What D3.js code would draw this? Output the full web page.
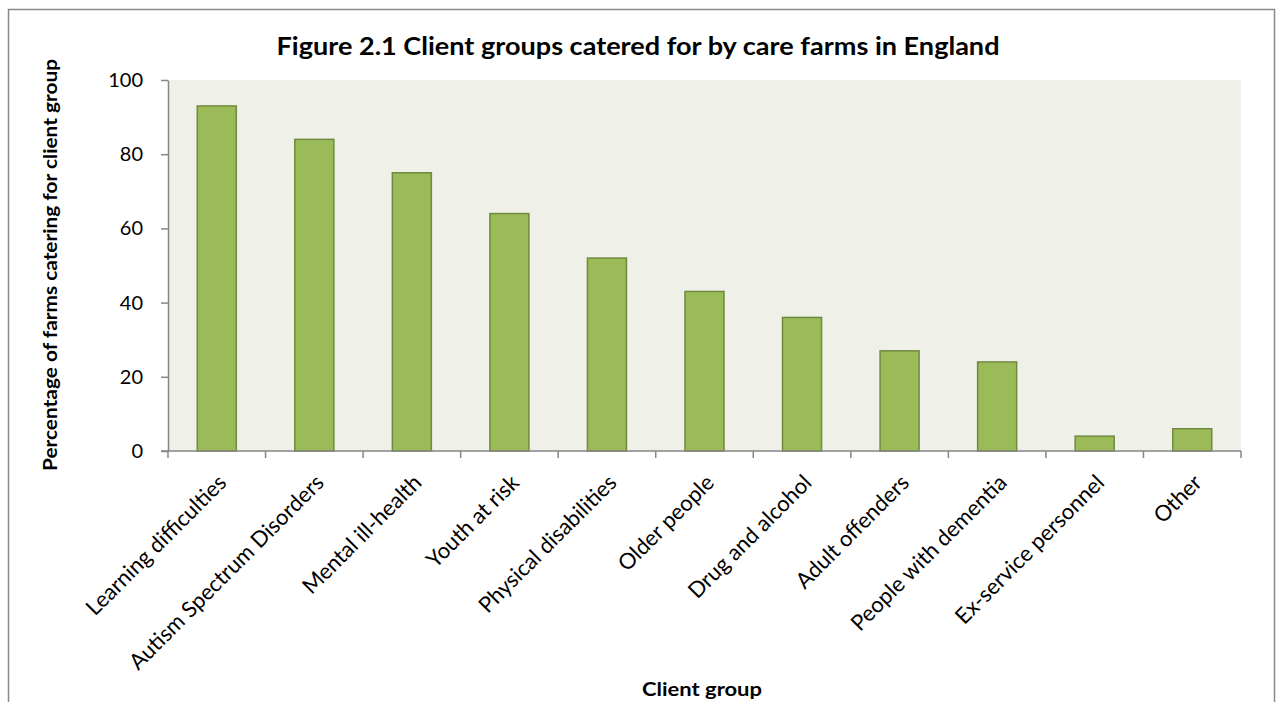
<!DOCTYPE html>
<html><head><meta charset="utf-8">
<script src="https://cdn.jsdelivr.net/npm/d3@7"></script>
<style>
html,body{margin:0;padding:0;background:#fff;}
svg{display:block;font-family:Lato,"Open Sans",sans-serif;}
</style></head>
<body>
<script>
const categories = ["Learning difficulties","Autism Spectrum Disorders","Mental ill-health","Youth at risk","Physical disabilities","Older people","Drug and alcohol","Adult offenders","People with dementia","Ex-service personnel","Other"];
const values = [93, 84, 75, 64, 52, 43, 36, 27, 24, 4, 6];
const yTicks = [0, 20, 40, 60, 80, 100];
const title = "Figure 2.1 Client groups catered for by care farms in England";
const yTitle = "Percentage of farms catering for client group";
const xTitle = "Client group";

const W = 1276, H = 702;
const plot = {left: 168, right: 1241, top: 80, bottom: 451};

const svg = d3.select("body").append("svg").attr("width", W).attr("height", H);

// outer chart border
svg.append("rect").attr("x", 8.5).attr("y", 9.5).attr("width", 1266).attr("height", 720)
  .attr("fill", "#fff").attr("stroke", "#898989").attr("stroke-width", 1.5);

const x = d3.scaleBand().domain(categories).range([plot.left, plot.right]).paddingInner(0.6).paddingOuter(0.3);
const xOuter = d3.scaleBand().domain(categories).range([plot.left, plot.right]);
const y = d3.scaleLinear().domain([0, 100]).range([plot.bottom, plot.top]);

// plot background
svg.append("rect").attr("x", plot.left).attr("y", plot.top)
  .attr("width", plot.right - plot.left).attr("height", plot.bottom - plot.top)
  .attr("fill", "#EFF1E9");

// bars
svg.append("g").selectAll("rect").data(values).join("rect")
  .attr("x", (d, i) => x(categories[i]))
  .attr("y", d => y(d))
  .attr("width", x.bandwidth())
  .attr("height", d => y(0) - y(d))
  .attr("fill", "#9BBB59").attr("stroke", "#71893F").attr("stroke-width", 1.5);

// y axis
const yAxis = svg.append("g").attr("transform", `translate(${plot.left},0)`)
  .call(d3.axisLeft(y).tickValues(yTicks).tickSize(7).tickPadding(18).tickSizeOuter(0));
yAxis.select(".domain").attr("stroke", "#868686").attr("stroke-width", 1.5);
yAxis.selectAll(".tick line").attr("stroke", "#868686").attr("stroke-width", 1.5);
yAxis.selectAll(".tick text").attr("font-size", 20).attr("fill", "#000")
  .attr("font-family", "Lato, sans-serif");

// x axis with ticks at category boundaries
const boundaries = categories.map(c => xOuter(c)).concat([plot.right]);
const xg = svg.append("g");
xg.append("line").attr("x1", plot.left - 7).attr("x2", plot.right)
  .attr("y1", plot.bottom).attr("y2", plot.bottom)
  .attr("stroke", "#868686").attr("stroke-width", 1.5);
xg.selectAll("line.tk").data(boundaries).join("line").attr("class", "tk")
  .attr("x1", d => d).attr("x2", d => d).attr("y1", plot.bottom).attr("y2", plot.bottom + 7)
  .attr("stroke", "#868686").attr("stroke-width", 1.5);

// x labels
xg.selectAll("text.lbl").data(categories).join("text").attr("class", "lbl")
  .attr("transform", d => `translate(${xOuter(d) + xOuter.bandwidth() / 2 + 11},${plot.bottom + 33}) rotate(-45)`)
  .attr("text-anchor", "end").attr("font-size", 22).attr("fill", "#000")
  .text(d => d);

// title
svg.append("text").attr("x", 638).attr("y", 55).attr("text-anchor", "middle")
  .attr("font-size", 24).attr("font-weight", "bold").attr("fill", "#000")
  .attr("textLength", 723).attr("lengthAdjust", "spacingAndGlyphs")
  .text(title);

// y title
svg.append("text").attr("transform", "translate(57,265) rotate(-90)")
  .attr("text-anchor", "middle").attr("font-size", 18).attr("font-weight", "bold")
  .attr("textLength", 412).attr("lengthAdjust", "spacingAndGlyphs")
  .text(yTitle);

// x title
svg.append("text").attr("x", 702).attr("y", 696).attr("text-anchor", "middle")
  .attr("font-size", 19).attr("font-weight", "bold")
  .attr("textLength", 120).attr("lengthAdjust", "spacingAndGlyphs")
  .text(xTitle);
</script>
</body></html>
